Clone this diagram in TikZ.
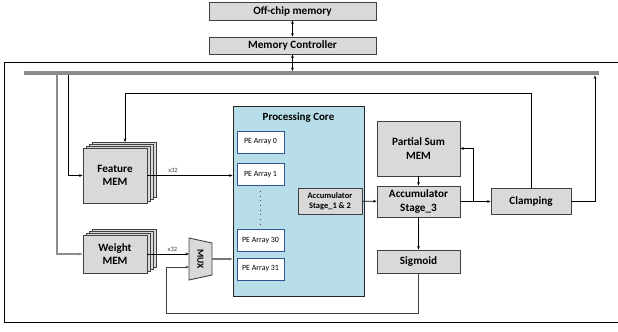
\documentclass[tikz,border=0pt]{standalone}
\usepackage{fontspec}
\setmainfont{Carlito}
\usepackage{tikz}
\usetikzlibrary{positioning, arrows.meta, calc}
\definecolor{boxgray}{HTML}{D9D9D9}
\definecolor{edgegray}{HTML}{404040}
\definecolor{busgray}{HTML}{8C8C8C}
\definecolor{coreblue}{HTML}{B7DEE8}
\definecolor{peblue}{HTML}{2F5597}

\begin{document}
\begin{tikzpicture}[x=1bp, y=-1bp,
    blk/.style={draw=edgegray, fill=boxgray, line width=0.9pt, align=center, inner sep=0pt,
        font=\bfseries\fontsize{11.2}{13.8}\selectfont},
    stackbox/.style={draw=edgegray, fill=boxgray, line width=0.9pt},
    pe/.style={draw=peblue, fill=white, line width=0.9pt, minimum width=47bp, minimum height=22bp,
        inner sep=0pt, font=\fontsize{8}{9}\selectfont},
    arr/.style={line width=0.7pt, -{Stealth[length=3.5pt,width=2.8pt]}},
    darr/.style={line width=0.7pt, {Stealth[length=3.5pt,width=2.8pt]}-{Stealth[length=3.5pt,width=2.8pt]}}]
    \useasboundingbox (0,0) rectangle (618,331);

    % off-chip side
    \node[blk, minimum width=167bp, minimum height=18bp] (offchip) at (292.5,11) {Off-chip memory};
    \node[blk, minimum width=167bp, minimum height=17bp] (memctrl) at (292.5,45.5) {Memory Controller};
    \draw[line width=0.9pt] (618,62) -| (4,322) -- (618,322);

    % bus
    \coordinate (bus_l) at (24,73);
    \coordinate (bus_r) at (599,73);
    \draw[busgray, line width=4.5bp] (bus_l) -- (bus_r);
    \coordinate (bus_mc) at (292.5,71);
    \draw[darr] (offchip) -- (memctrl);
    \draw[darr] (memctrl) -- (bus_mc);

    % memories
    \foreach \i in {3,2,1}
        \draw[stackbox] (83+3.3*\i,148-1.8*\i) rectangle ++(64,55);
    \node[blk, minimum width=64bp, minimum height=55bp] (feat) at (115,175.5) {Feature\\MEM};
    \foreach \i in {3,2,1}
        \draw[stackbox] (83+3.3*\i,235-1.8*\i) rectangle ++(64,38);
    \node[blk, minimum width=64bp, minimum height=38bp] (wgt) at (115,254) {Weight\\MEM};

    % processing core
    \node[draw=black!85, fill=coreblue, line width=0.9pt, minimum width=131bp, minimum height=190bp] (core) at (298.5,201) {};
    \node[font=\bfseries\fontsize{11}{12}\selectfont] (core_title) at (298.5,118) {Processing Core};
    \node[pe] (pe0) at (260.5,142) {PE Array 0};
    \node[pe] (pe1) at (260.5,174.5) {PE Array 1};
    \node[pe] (pe30) at (260.5,240.5) {PE Array 30};
    \node[pe] (pe31) at (260.5,269) {PE Array 31};
    \draw[line width=1.1pt, dash pattern=on 1.1pt off 3.6pt, black!70] ([yshift=-5pt]pe1.south) -- ([yshift=3pt]pe30.north);
    \node[blk, minimum width=64bp, minimum height=26bp, font=\bfseries\fontsize{8.5}{10}\selectfont] (acc12) at (330,201) {Accumulator\\Stage\_1 \& 2};

    % mux
    \draw[fill=boxgray, draw=edgegray, line width=0.9pt] (189,238) -- (212,243) -- (212,275) -- (189,280) -- cycle;
    \node[rotate=-90, font=\bfseries\fontsize{9.5}{10}\selectfont] (mux) at (200.5,259) {MUX};
    \coordinate (mux_in) at (189,254);
    \coordinate (mux_fb) at (189,267);
    \coordinate (mux_out) at (212,259);

    % post-processing
    \node[blk, minimum width=83bp, minimum height=55bp] (psum) at (418.5,148.5) {Partial Sum\\MEM};
    \node[blk, minimum width=83bp, minimum height=31bp] (acc3) at (418.5,201.5) {Accumulator\\Stage\_3};
    \node[blk, minimum width=83bp, minimum height=23bp] (sigm) at (418.5,261.5) {Sigmoid};
    \node[blk, minimum width=80bp, minimum height=26bp] (clamp) at (531,201.5) {Clamping};

    % bus taps
    \coordinate (tap_f) at (68,75);
    \coordinate (tap_w) at (57,75);
    \draw[arr] (tap_f) |- (feat.west);
    \draw[arr, busgray, line width=1.1pt] (tap_w) |- (wgt.west);

    % data paths
    \draw[arr] (feat.east) -- (feat.east -| core.west) node[pos=0.3, above=-1pt, font=\fontsize{6.5}{7}\selectfont, black!75] (x32_f) {x32};
    \draw[arr] (wgt.east) -- (mux_in) node[pos=0.6, above=-1pt, font=\fontsize{6.5}{7}\selectfont, black!75] (x32_w) {x32};
    \draw[arr, busgray!85!black, line width=1.5pt] (mux_out) -- (mux_out -| core.west);
    \draw[arr] (acc12) -- (acc3);
    \draw[arr] (psum) -- (acc3);
    \draw[arr] (acc3) -- (sigm);
    \draw[arr] (acc3) -- (clamp);
    \draw[arr] ($(acc3.east)+(13,0)$) |- (psum.east);

    % feedback
    \coordinate (feat_top) at (125,142);
    \coordinate (bus_in) at (595,75.5);
    \draw[arr] (clamp.north) -- ++(0,-95) -| (feat_top);
    \draw[arr] (clamp.east) -| (bus_in);
    \draw[arr, black!75, line width=0.9pt] (sigm.south) |- (166,313) |- (mux_fb);
\end{tikzpicture}
\end{document}
